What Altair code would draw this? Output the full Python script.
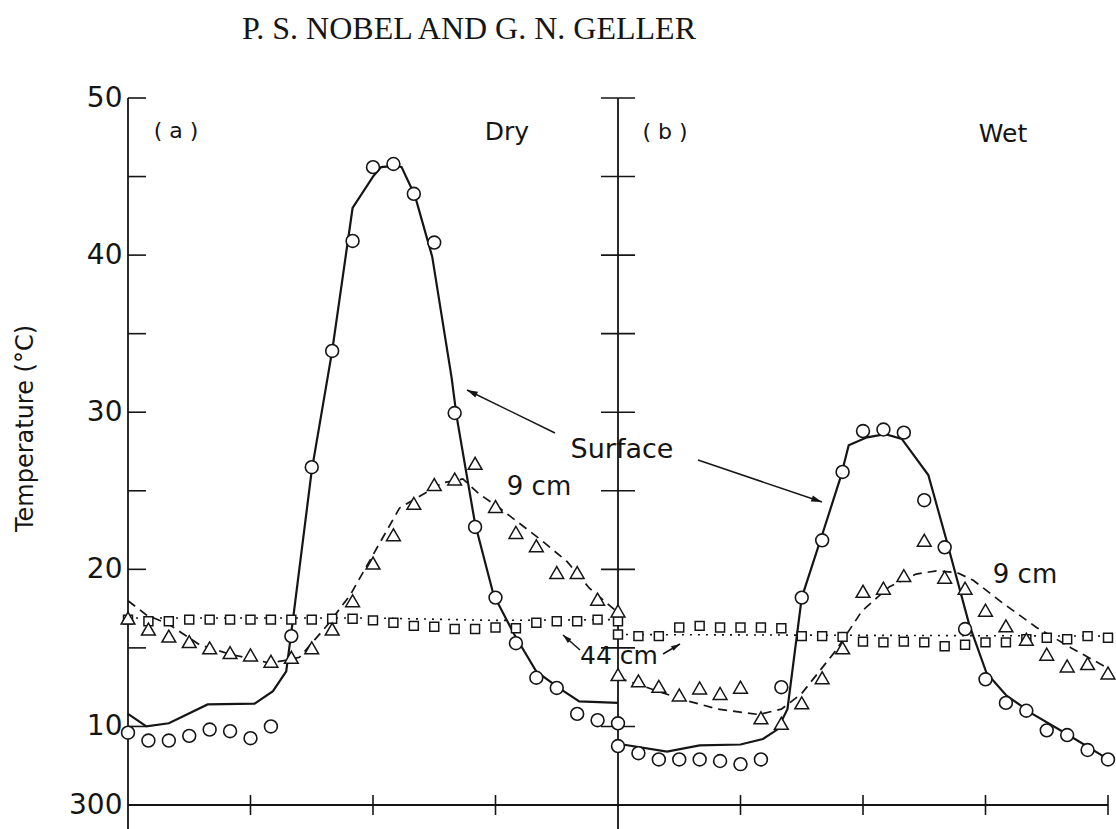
import altair as alt
import pandas as pd

# ---------------- data ----------------
hours = list(range(25))  # hourly readings, 0..24 h in each panel

dry_surface = [9.6, 9.1, 9.1, 9.4, 9.8, 9.7, 9.25, 10.0, 15.75, 26.5, 33.9, 40.9, 45.6,
               45.8, 43.9, 40.8, 29.95, 22.7, 18.2, 15.3, 13.1, 12.45, 10.8, 10.4, 10.2]
dry_9cm = [16.9, 16.2, 15.75, 15.4, 15.0, 14.7, 14.55, 14.15, 14.4, 15.0, 16.2, 18.0, 20.4,
           22.2, 24.2, 25.4, 25.75, 26.75, 24.0, 22.35, 21.5, 19.8, 19.8, 18.1, 17.35]
dry_44cm = [16.8, 16.7, 16.7, 16.8, 16.8, 16.8, 16.8, 16.8, 16.8, 16.8, 16.85, 16.85, 16.75,
            16.6, 16.4, 16.35, 16.2, 16.2, 16.3, 16.25, 16.6, 16.7, 16.7, 16.8, 16.7]
wet_surface = [8.75, 8.3, 7.9, 7.9, 7.9, 7.8, 7.6, 7.9, 12.5, 18.2, 21.85, 26.2, 28.8,
               28.9, 28.7, 24.4, 21.4, 16.2, 13.0, 11.5, 11.0, 9.75, 9.45, 8.5, 7.9]
wet_9cm = [13.3, 12.9, 12.55, 12.0, 12.45, 12.1, 12.5, 10.55, 10.2, 11.5, 13.1, 15.0, 18.6,
           18.8, 19.6, 21.85, 19.5, 18.8, 17.4, 16.4, 15.55, 14.6, 13.85, 14.0, 13.4]
wet_44cm = [15.85, 15.75, 15.75, 16.3, 16.4, 16.3, 16.3, 16.3, 16.25, 15.75, 15.75, 15.7, 15.4,
            15.35, 15.4, 15.35, 15.1, 15.2, 15.35, 15.35, 15.55, 15.65, 15.55, 15.75, 15.65]

# fitted curves drawn through the data (hour, temperature)
dry_surface_fit_h = [0, 0.9, 2.0, 3.9, 6.2, 7.1, 7.75, 8.1, 9.0, 10.0, 11.0, 12.0, 12.4, 13.15,
                     13.4, 14.05, 14.9, 15.85, 16.1, 17.0, 17.9, 18.9, 20.0, 21.1, 22.1, 24.0]
dry_surface_fit_v = [10.8, 10.0, 10.2, 11.4, 11.45, 12.25, 13.5, 17.0, 26.3, 33.9, 43.0, 45.0, 45.6,
                     45.7, 45.6, 43.8, 39.9, 32.2, 29.7, 22.9, 18.4, 15.9, 13.5, 12.45, 11.6, 11.5]
dry_9cm_fit_h = [0, 0.9, 2.0, 3.5, 5.0, 6.9, 7.7, 8.4, 9.8, 10.9, 13.3, 15.4, 16.4, 17.2, 18.2,
                 19.2, 20.2, 21.5, 22.6, 23.9]
dry_9cm_fit_v = [18.0, 17.1, 16.5, 15.2, 14.6, 14.05, 14.2, 14.4, 16.5, 18.4, 23.9, 25.5, 25.75,
                 24.8, 23.9, 22.9, 21.9, 20.5, 18.8, 17.35]
dry_44cm_fit_h = [0, 12, 18, 24]
dry_44cm_fit_v = [16.9, 16.9, 16.75, 16.8]

wet_surface_fit_h = [0, 2.4, 4.0, 6.0, 7.1, 7.8, 8.3, 9.0, 10.0, 10.9, 11.3, 12.2, 13.1, 13.9,
                     15.2, 16.1, 17.2, 18.05, 19.0, 20.3, 22.0, 23.9]
wet_surface_fit_v = [8.9, 8.4, 8.8, 8.85, 9.2, 9.8, 11.1, 18.2, 22.2, 25.85, 27.9, 28.4, 28.6,
                     28.3, 26.0, 21.8, 16.5, 13.4, 12.0, 10.8, 9.5, 8.0]
wet_9cm_fit_h = [0, 3.2, 4.9, 6.9, 8.0, 9.0, 10.65, 11.95, 13.3, 14.6, 15.6, 16.6, 17.4, 18.9,
                 20.5, 22.2, 24.0]
wet_9cm_fit_v = [13.1, 11.7, 11.1, 10.76, 11.1, 12.1, 14.8, 17.35, 18.9, 19.7, 19.9, 19.8, 19.3,
                 17.8, 16.3, 15.0, 13.7]
wet_44cm_fit_h = [0, 12, 24]
wet_44cm_fit_v = [15.85, 15.8, 15.75]

y_tick_values = [10, 15, 20, 25, 30, 35, 40, 45, 50]
y_label_values = [5, 10, 20, 30, 40, 50]
x_tick_hours = [6, 12, 18, 30, 36, 42, 48]
panel_axis_hours = [0, 24]
x_range = [0, 48]
y_range = [5, 50]

# ---------------- tables ----------------
PANEL_OFFSET = {"Dry": 0, "Wet": 24}

obs_rows = []
for panel, s, d9, d44 in [("Dry", dry_surface, dry_9cm, dry_44cm),
                          ("Wet", wet_surface, wet_9cm, wet_44cm)]:
    for h, a, b, c in zip(hours, s, d9, d44):
        x = h + PANEL_OFFSET[panel]
        obs_rows.append(dict(panel=panel, x=x, depth="Surface", temp=a))
        obs_rows.append(dict(panel=panel, x=x, depth="9 cm", temp=b))
        obs_rows.append(dict(panel=panel, x=x, depth="44 cm", temp=c))
obs = pd.DataFrame(obs_rows)

fit_rows = []
for panel, depth, hh, vv in [
    ("Dry", "Surface", dry_surface_fit_h, dry_surface_fit_v),
    ("Dry", "9 cm", dry_9cm_fit_h, dry_9cm_fit_v),
    ("Dry", "44 cm", dry_44cm_fit_h, dry_44cm_fit_v),
    ("Wet", "Surface", wet_surface_fit_h, wet_surface_fit_v),
    ("Wet", "9 cm", wet_9cm_fit_h, wet_9cm_fit_v),
    ("Wet", "44 cm", wet_44cm_fit_h, wet_44cm_fit_v),
]:
    for i, (h, v) in enumerate(zip(hh, vv)):
        fit_rows.append(dict(panel=panel, depth=depth, x=h + PANEL_OFFSET[panel], temp=v, order=i))
fits = pd.DataFrame(fit_rows)

vaxis_df = pd.DataFrame({"x": panel_axis_hours, "temp": [y_range[1]] * 2})
haxis_df = pd.DataFrame({"x0": [x_range[0]], "x1": [x_range[1]], "temp": [y_range[0]]})
ytick_a = pd.DataFrame({"x": [0] * len(y_tick_values), "temp": y_tick_values})
ytick_b = pd.DataFrame({"x": [24] * len(y_tick_values), "temp": y_tick_values})
xtick_df = pd.DataFrame({"t": x_tick_hours, "temp": [y_range[0]] * len(x_tick_hours)})

# ---------------- styling ----------------
W, H = 980, 707
INK = "#151515"
SANS = "DejaVu Sans"
SERIF = "Liberation Serif"

xs = alt.Scale(domain=x_range, nice=False, zero=False)
ys = alt.Scale(domain=y_range, nice=False, zero=False)

yaxis = alt.Axis(
    values=y_label_values,
    labelExpr="datum.value == 5 ? '300' : datum.label",
    labelFont=SANS, labelFontSize=28, labelColor=INK,
    labelPadding=6, domain=False, ticks=False, tickSize=0, grid=False,
    title="Temperature (°C)", titleFont=SANS, titleFontSize=24, titleFontWeight="normal",
    titleColor=INK, titleAngle=270, titleX=-103, titleY=330,
    titleAlign="center", titleBaseline="middle",
)

one = pd.DataFrame({"k": [0]})


def X(field="x:Q"):
    return alt.X(field, scale=xs, axis=None)


def Y(field="temp:Q"):
    return alt.Y(field, scale=ys, axis=yaxis)


layers = []

# observations of the surface carry the y axis
layers.append(
    alt.Chart(obs).transform_filter(alt.datum.depth == "Surface")
    .mark_point(shape="circle", size=0, opacity=0)
    .encode(x=X(), y=Y())
)

# axis frame lines
layers.append(
    alt.Chart(vaxis_df).mark_rule(color=INK, strokeWidth=1.8)
    .encode(x=X(), y=Y(), y2=alt.value(H + 24))
)
layers.append(
    alt.Chart(haxis_df).mark_rule(color=INK, strokeWidth=1.8)
    .encode(x=X("x0:Q"), x2=alt.X2("x1"), y=Y())
)
# y ticks: inward on (a), crossing on (b)
layers.append(
    alt.Chart(ytick_a).mark_rule(color=INK, strokeWidth=1.6, x2Offset=18)
    .encode(x=X(), x2=alt.X2("x"), y=Y())
)
layers.append(
    alt.Chart(ytick_b).mark_rule(color=INK, strokeWidth=1.6, xOffset=-17, x2Offset=17)
    .encode(x=X(), x2=alt.X2("x"), y=Y())
)
# x ticks crossing the bottom axis
layers.append(
    alt.Chart(xtick_df).mark_rule(color=INK, strokeWidth=1.6, yOffset=-10, y2Offset=10)
    .encode(x=X("t:Q"), y=Y(), y2=alt.Y2("temp"))
)

# fitted curves
layers.append(
    alt.Chart(fits).transform_filter(alt.datum.depth == "44 cm")
    .mark_line(color=INK, strokeWidth=1.6, strokeDash=[2, 6])
    .encode(x=X(), y=Y(), detail="panel:N", order="order:Q")
)
layers.append(
    alt.Chart(fits).transform_filter(alt.datum.depth == "9 cm")
    .mark_line(color=INK, strokeWidth=1.7, strokeDash=[9, 6])
    .encode(x=X(), y=Y(), detail="panel:N", order="order:Q")
)
layers.append(
    alt.Chart(fits).transform_filter(alt.datum.depth == "Surface")
    .mark_line(color=INK, strokeWidth=2.2)
    .encode(x=X(), y=Y(), detail="panel:N", order="order:Q")
)

# observations
layers.append(
    alt.Chart(obs).transform_filter(alt.datum.depth == "44 cm")
    .mark_point(shape="square", size=80, filled=False, fill="white", stroke=INK,
                strokeWidth=1.5, opacity=1)
    .encode(x=X(), y=Y())
)
layers.append(
    alt.Chart(obs).transform_filter(alt.datum.depth == "9 cm")
    .mark_point(shape="triangle-up", size=190, filled=False, fill="white", stroke=INK,
                strokeWidth=1.5, opacity=1)
    .encode(x=X(), y=Y())
)
layers.append(
    alt.Chart(obs).transform_filter(alt.datum.depth == "Surface")
    .mark_point(shape="circle", size=165, filled=False, fill="white", stroke=INK,
                strokeWidth=1.6, opacity=1)
    .encode(x=X(), y=Y())
)


# ---------------- annotations (pixel positions relative to plot area) ----------------
def label(text, px, py, size, font=SANS):
    return alt.Chart(one).mark_text(
        text=text, font=font, fontSize=size, fontWeight="normal", color=INK,
        align="center", baseline="alphabetic",
    ).encode(x=alt.value(px), y=alt.value(py))


HEAD = "M0,0L-0.5,1.7L0.5,1.7Z"


def arrow(x1, y1, x2, y2, angle, size=120):
    line = alt.Chart(one).mark_rule(color=INK, strokeWidth=1.5).encode(
        x=alt.value(x1), y=alt.value(y1), x2=alt.value(x2), y2=alt.value(y2))
    head = alt.Chart(one).mark_point(shape=HEAD, filled=True, color=INK, size=size,
                                     angle=angle, opacity=1).encode(
        x=alt.value(x2), y=alt.value(y2))
    return [line, head]


layers.append(label("P. S. NOBEL AND G. N. GELLER", 341, -59, 32, font=SERIF))
layers.append(label("( a )", 48, 40, 22))
layers.append(label("Dry", 379, 42, 25))
layers.append(label("( b )", 537, 41, 22))
layers.append(label("Wet", 875, 44, 25))
layers.append(label("Surface", 494, 360, 27))
layers.append(label("9 cm", 411, 397, 26))
layers.append(label("9 cm", 897, 485, 26))
layers.append(label("44 cm", 491, 566, 25))

layers += arrow(427, 335, 339, 292, 296, size=160)
layers += arrow(570, 362, 694, 404, 109, size=160)
layers += arrow(452, 552, 435, 537, 312, size=110)
layers += arrow(535, 556, 552, 546, 60, size=110)

chart = alt.layer(*layers).properties(
    width=W, height=H,
    autosize=alt.AutoSizeParams(type="none"),
    padding={"left": 128, "top": 98, "right": 8, "bottom": 24},
    background="white",
).configure_view(stroke=None)

chart.save("out.html", embed_options={"renderer": "svg", "actions": False})
